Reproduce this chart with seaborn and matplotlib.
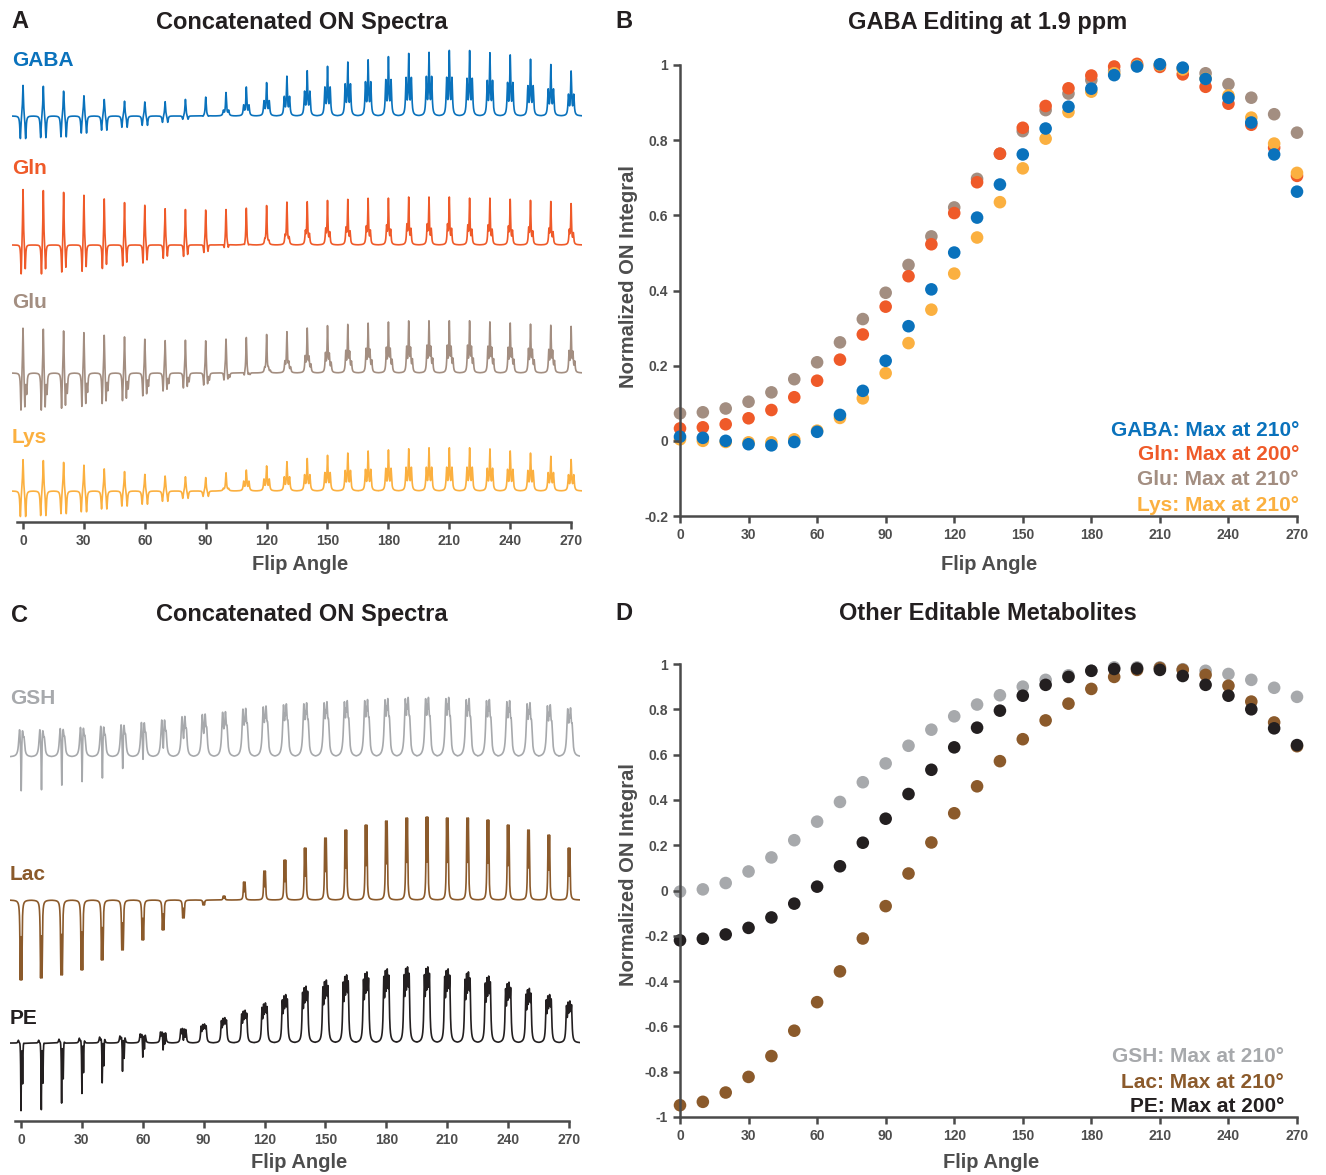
import numpy as np
import pandas as pd
import matplotlib
matplotlib.use("Agg")
import matplotlib.pyplot as plt
import seaborn as sns

flip_angles = list(range(0, 280, 10))

# ---- panel B: normalized ON integrals (GABA editing at 1.9 ppm)
gaba_int = [0.011, 0.008, 0.0, -0.009, -0.012, -0.003, 0.024, 0.069, 0.133, 0.213, 0.305, 0.403, 0.501, 0.594,
            0.682, 0.762, 0.831, 0.889, 0.937, 0.973, 0.996, 1.002, 0.993, 0.963, 0.913, 0.847, 0.762, 0.663]
gln_int = [0.033, 0.036, 0.044, 0.060, 0.082, 0.116, 0.160, 0.216, 0.283, 0.357, 0.438, 0.523, 0.606, 0.688,
           0.764, 0.833, 0.891, 0.938, 0.972, 0.996, 1.003, 0.995, 0.975, 0.942, 0.897, 0.841, 0.780, 0.705]
glu_int = [0.073, 0.076, 0.086, 0.104, 0.129, 0.164, 0.209, 0.262, 0.324, 0.394, 0.468, 0.544, 0.621, 0.697,
           0.764, 0.824, 0.880, 0.924, 0.960, 0.985, 1.0, 1.0, 0.991, 0.978, 0.949, 0.913, 0.869, 0.820]
lys_int = [0.004, 0.0, -0.003, -0.004, -0.004, 0.004, 0.027, 0.061, 0.113, 0.180, 0.260, 0.349, 0.445, 0.541,
           0.635, 0.725, 0.804, 0.875, 0.929, 0.978, 0.998, 1.0, 0.988, 0.964, 0.919, 0.860, 0.791, 0.713]

# ---- panel D: other editable metabolites
gsh_int = [-0.005, 0.005, 0.033, 0.084, 0.146, 0.222, 0.304, 0.391, 0.478, 0.561, 0.639, 0.710, 0.769, 0.821,
           0.862, 0.900, 0.930, 0.950, 0.970, 0.985, 0.985, 0.985, 0.977, 0.970, 0.956, 0.930, 0.895, 0.855]
lac_int = [-0.948, -0.933, -0.892, -0.823, -0.731, -0.619, -0.493, -0.357, -0.212, -0.069, 0.075, 0.212, 0.341, 0.460,
           0.571, 0.668, 0.751, 0.825, 0.890, 0.943, 0.974, 0.982, 0.974, 0.952, 0.904, 0.834, 0.742, 0.637]
pe_int = [-0.220, -0.213, -0.194, -0.165, -0.119, -0.058, 0.017, 0.107, 0.211, 0.317, 0.426, 0.533, 0.632, 0.719,
          0.794, 0.860, 0.908, 0.943, 0.970, 0.978, 0.980, 0.974, 0.947, 0.908, 0.860, 0.800, 0.716, 0.642]

# ---- panels A/C: peak amplitudes of each ON spectrum (arbitrary units), per flip angle
gaba_main = [33, 32, 27, 22, 18, 16, 15, 15, 17, 19, 23, 28, 32, 38, 43, 47, 51, 53, 56, 59, 60, 62, 62, 60, 58, 54, 49, 43]
gaba_side = [-24, -23, -22, -18, -15, -12, -10, -7, -4, -1, 5, 10, 14, 18, 23, 27, 30, 32, 34, 36, 37, 36, 35, 33, 31, 28, 25, 20]
gln_main = [59, 58, 56, 53, 49, 45, 42, 38, 37, 36, 36, 37, 39, 42, 42, 43, 44, 45, 45, 46, 46, 46, 45, 45, 44, 43, 42, 40]
gln_side = [-33, -33, -31, -30, -27, -24, -21, -16, -14, -10, -5, -2, 4, 8, 12, 14, 15, 16, 17, 18, 18, 18, 17, 17, 16, 15, 14, 13]
glu_main = [50, 49, 47, 45, 42, 40, 37, 35, 35, 34, 35, 36, 38, 40, 43, 45, 46, 47, 48, 49, 49, 49, 49, 48, 47, 46, 45, 44]
glu_side = [-40, -40, -38, -36, -33, -30, -25, -20, -17, -14, -9, -4, 4, 10, 15, 18, 20, 22, 23, 24, 25, 25, 25, 24, 23, 22, 21, 20]
lys_main = [34, 33, 31, 28, 24, 21, 18, 16, 15, 14, 18, 20, 24, 28, 31, 34, 36, 38, 39, 40, 41, 41, 41, 40, 38, 36, 33, 30]
lys_side = [-27, -26, -24, -22, -19, -16, -14, -11, -8, -6, 2, 9, 11, 13, 15, 17, 19, 20, 21, 22, 22, 22, 22, 21, 20, 19, 17, 15]
gsh_main = [-51, -50, -46, -43, -40, -31, -23, -13, -5, -1, 4, 8, 12, 14, 15, 16, 17, 18, 18, 19, 19, 19, 18, 18, 17, 16, 15, 14]
gsh_side = [30, 30, 31, 32, 33, 34, 36, 38, 41, 43, 45, 48, 50, 52, 53, 54, 55, 56, 57, 58, 58, 58, 57, 56, 55, 53, 51, 48]
lac_main = [-80, -78, -75, -70, -60, -50, -40, -30, -18, -5, 4, 18, 29, 40, 52, 62, 70, 75, 79, 82, 83, 82, 82, 80, 75, 70, 65, 52]
pe_main = [-70, -69, -63, -54, -44, -33, -20, -14, -6, 6, 8, 10, 12, 14, 16, 17, 18, 18, 18, 18, 18, 18, 18, 17, 16, 15, 14, 12]
pe_side = [4, 4, 5, 6, 7, 8, 10, 12, 15, 18, 24, 31, 38, 46, 54, 60, 65, 68, 71, 73, 73, 71, 68, 64, 58, 52, 46, 40]

colors = {"GABA": "#0a72bc", "Gln": "#ef5a29", "Glu": "#a38e81", "Lys": "#fbb040",
          "GSH": "#a7a9ac", "Lac": "#8b5a2b", "PE": "#231f20"}

W, H = 1326, 1175
tick_col = "#4d4d4d"
spine_col = "#4a4a4a"


def lor(x, x0, g):
    return g ** 2 / ((x - x0) ** 2 + g ** 2)


# line shapes: (main peak, side peaks) as offset / width / weight in degrees
shapes = {
    "GABA": ([(0, 0.28, 1)], [(-1.3, 0.3, 1), (1.3, 0.3, 1)]),
    "Gln": ([(0, 0.25, 1)], [(-0.9, 0.25, 1), (1.1, 0.25, 0.8)]),
    "Glu": ([(0, 0.25, 1)], [(-1.0, 0.25, 1), (0.9, 0.25, 0.9), (1.8, 0.25, 0.5)]),
    "Lys": ([(0, 0.28, 1)], [(-1.3, 0.3, 1), (1.3, 0.3, 1)]),
    "GSH": ([(0.1, 0.18, 1)], [(-0.7, 0.5, 1), (0.7, 0.45, 0.9), (1.5, 0.4, 0.5)]),
    "Lac": ([(-0.35, 0.2, 1), (0.35, 0.2, 1)], []),
    "PE": ([(0, 0.14, 1), (0.8, 0.14, 0.6)], [(-1.3, 0.3, 1), (-0.5, 0.3, 1), (0.4, 0.3, 1), (1.2, 0.3, 1)]),
}


def comp(x, peaks):
    y = np.zeros_like(x)
    for x0, g, a in peaks:
        y += a * lor(x, x0, g)
    m = np.abs(y).max()
    return y / m if m > 0 else y


def spectrum(name, main, side, base):
    xs, ys = [], []
    for i, fa in enumerate(flip_angles):
        dx = np.linspace(-5, 5, 500)
        pk_main, pk_side = shapes[name]
        y = main[i] * comp(dx, pk_main)
        if side is not None and pk_side:
            y = y + side[i] * comp(dx, pk_side)
        xs.append(fa + dx)
        ys.append(base + y)
    return pd.DataFrame({"x": np.concatenate(xs), "y": np.concatenate(ys), "metab": name})


def fx(px):
    return px / W


def fy(py):
    return 1 - py / H


plt.rcParams["font.family"] = ["Liberation Sans", "DejaVu Sans"]
fig = plt.figure(figsize=(W / 100, H / 100), dpi=100)


def style_ticks(ax):
    ax.tick_params(direction="out", length=5, width=1.8, color=spine_col,
                   labelsize=10, labelcolor=tick_col)
    for lab in ax.get_xticklabels() + ax.get_yticklabels():
        lab.set_fontweight("bold")


def spectra_panel(left_px, axis_py, top_py, rows):
    x0 = left_px - 5.5 * 2.03
    ax = fig.add_axes([fx(x0), fy(axis_py), 281 * 2.03 / W, (axis_py - top_py) / H])
    frames = [spectrum(n, m, s, axis_py - b) for n, m, s, b, _ in rows]
    df = pd.concat(frames, ignore_index=True)
    sns.lineplot(data=df, x="x", y="y", hue="metab", palette=colors, estimator=None,
                 sort=False, lw=1.2, legend=False, ax=ax)
    for n, m, s, b, lab_py in rows:
        ax.text(-5.4, axis_py - lab_py, n, color=colors[n], fontsize=15, fontweight="bold",
                ha="left", va="center")
    ax.set_xlim(-5.5, 275.5)
    ax.set_ylim(0, axis_py - top_py)
    for sp in ["left", "right", "top"]:
        ax.spines[sp].set_visible(False)
    ax.spines["bottom"].set_color(spine_col)
    ax.spines["bottom"].set_linewidth(1.8)
    ax.spines["bottom"].set_bounds(-3, 270)
    ax.set_yticks([])
    ax.set_xticks(range(0, 271, 30))
    ax.set_xlabel("")
    ax.set_ylabel("")
    style_ticks(ax)
    return ax


# panel A
spectra_panel(23, 522, 45, [
    ("GABA", gaba_main, gaba_side, 116, 60),
    ("Gln", gln_main, gln_side, 245, 168),
    ("Glu", glu_main, glu_side, 373, 303),
    ("Lys", lys_main, lys_side, 491, 437),
])

# panel C
spectra_panel(21, 1121, 645, [
    ("GSH", gsh_main, gsh_side, 757, 698),
    ("Lac", lac_main, None, 900, 874),
    ("PE", pe_main, pe_side, 1043, 1019),
])


def scatter_panel(top_py, bot_py, ymin, ymax, yticks, ylabels, series, order):
    ax = fig.add_axes([fx(680), fy(bot_py), (1297 - 680) / W, (bot_py - top_py) / H])
    rows = []
    for name in order:
        for fa, v in zip(flip_angles, series[name]):
            rows.append({"angle": fa, "value": v, "metab": name})
    df = pd.DataFrame(rows)
    sns.scatterplot(data=df, x="angle", y="value", hue="metab", palette=colors, s=82,
                    linewidth=0, legend=False, clip_on=False, ax=ax)
    ax.set_xlim(0, 270)
    ax.set_ylim(ymin, ymax)
    ax.set_xticks(range(0, 271, 30))
    ax.set_yticks(yticks)
    ax.set_yticklabels(ylabels)
    for sp in ["right", "top"]:
        ax.spines[sp].set_visible(False)
    for sp in ["left", "bottom"]:
        ax.spines[sp].set_color(spine_col)
        ax.spines[sp].set_linewidth(1.8)
    ax.set_xlabel("")
    ax.set_ylabel("")
    style_ticks(ax)
    return ax


ax_b = scatter_panel(65, 516, -0.2, 1.0, [-0.2, 0, 0.2, 0.4, 0.6, 0.8, 1.0],
                     ["-0.2", "0", "0.2", "0.4", "0.6", "0.8", "1"],
                     {"GABA": gaba_int, "Gln": gln_int, "Glu": glu_int, "Lys": lys_int},
                     ["Glu", "Gln", "Lys", "GABA"])

d_ticks = [-1, -0.8, -0.6, -0.4, -0.2, 0, 0.2, 0.4, 0.6, 0.8, 1]
ax_d = scatter_panel(664, 1117, -1.0, 1.0, d_ticks,
                     ["-1", "-0.8", "-0.6", "-0.4", "-0.2", "0", "0.2", "0.4", "0.6", "0.8", "1"],
                     {"GSH": gsh_int, "Lac": lac_int, "PE": pe_int},
                     ["GSH", "Lac", "PE"])

# titles, panel letters, axis labels
title_kw = dict(fontsize=17, fontweight="bold", color="#231f20", ha="center", va="center")
fig.text(fx(302), fy(22), "Concatenated ON Spectra", **title_kw)
fig.text(fx(988), fy(22), "GABA Editing at 1.9 ppm", **title_kw)
fig.text(fx(302), fy(615), "Concatenated ON Spectra", **title_kw)
fig.text(fx(988), fy(613), "Other Editable Metabolites", **title_kw)
letter_kw = dict(fontsize=17, fontweight="bold", color="#231f20", ha="left", va="center")
fig.text(fx(11), fy(22), "A", **letter_kw)
fig.text(fx(615), fy(22), "B", **letter_kw)
fig.text(fx(11), fy(615), "C", **letter_kw)
fig.text(fx(615), fy(613), "D", **letter_kw)

lab_kw = dict(fontsize=14.5, fontweight="bold", color="#4d4d4d", ha="center", va="center")
fig.text(fx(300), fy(565), "Flip Angle", **lab_kw)
fig.text(fx(989), fy(565), "Flip Angle", **lab_kw)
fig.text(fx(299), fy(1162), "Flip Angle", **lab_kw)
fig.text(fx(991), fy(1162), "Flip Angle", **lab_kw)
fig.text(fx(628), fy(277), "Normalized ON Integral", rotation=90, **lab_kw)
fig.text(fx(628), fy(875), "Normalized ON Integral", rotation=90, **lab_kw)

# "max at" annotations
leg_b = [("GABA", 210), ("Gln", 200), ("Glu", 210), ("Lys", 210)]
for i, (n, m) in enumerate(leg_b):
    fig.text(fx(1299), fy(430 + 25 * i), f"{n}: Max at {m}\u00b0", color=colors[n], fontsize=15,
             fontweight="bold", ha="right", va="center")
leg_d = [("GSH", 210), ("Lac", 210), ("PE", 200)]
for i, (n, m) in enumerate(leg_d):
    fig.text(fx(1284), fy(1057 + 25 * i), f"{n}: Max at {m}\u00b0", color=colors[n], fontsize=15,
             fontweight="bold", ha="right", va="center")

fig.savefig("out.png", dpi=100, facecolor="white")
